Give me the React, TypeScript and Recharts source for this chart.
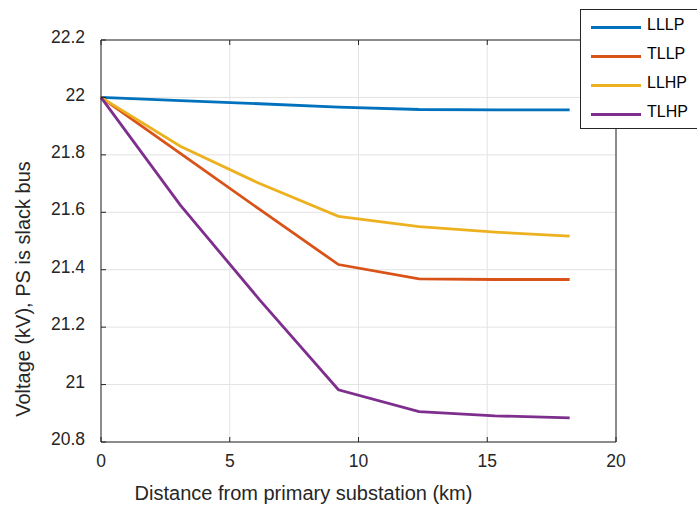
import React from 'react';
import { LineChart, Line, XAxis, YAxis, CartesianGrid } from 'recharts';

const distances = [0, 3.08, 6.16, 9.22, 12.35, 15.3, 18.2];
const lllp = [22, 21.989, 21.978, 21.966, 21.958, 21.957, 21.957];
const tllp = [22, 21.805, 21.61, 21.418, 21.368, 21.366, 21.366];
const llhp = [22, 21.83, 21.7, 21.586, 21.55, 21.531, 21.517];
const tlhp = [22, 21.625, 21.295, 20.982, 20.906, 20.891, 20.884];

const xTicks = [0, 5, 10, 15, 20];
const yTicks = [20.8, 21, 21.2, 21.4, 21.6, 21.8, 22, 22.2];

const seriesNames = ['LLLP', 'TLLP', 'LLHP', 'TLHP'];
const seriesValues = [lllp, tllp, llhp, tlhp];
const seriesColors = ['#0072BD', '#D95319', '#EDB120', '#7E2F8E'];

const xLabel = 'Distance from primary substation (km)';
const yLabel = 'Voltage (kV), PS is slack bus';

const data = distances.map((d, i) => {
  const row: Record<string, number> = { d };
  seriesNames.forEach((n, k) => {
    row[n] = seriesValues[k][i];
  });
  return row;
});

const FONT = '"Liberation Sans", Arial, Helvetica, sans-serif';
const INK = '#262626';
const fmt = (v: number) => String(Number(v.toFixed(1)));
const blank = () => '';

export default function App() {
  return (
    <div style={{ position: 'absolute', left: 0, top: 0, width: 697, height: 511, background: '#fff', fontFamily: FONT }}>
      <LineChart
        width={697}
        height={511}
        data={data}
        margin={{ top: 10, right: 51, bottom: 29, left: 0 }}
        style={{ fontFamily: FONT }}
      >
        <CartesianGrid stroke="#e3e3e3" strokeWidth={1} horizontalValues={yTicks} verticalValues={xTicks} />
        <XAxis
          dataKey="d"
          type="number"
          domain={[0, 20]}
          ticks={xTicks}
          height={40}
          stroke={INK}
          tickSize={-5}
          tickMargin={18}
          tick={{ fill: INK, fontSize: 17.5, fontFamily: FONT }}
          label={{
            content: (p: any) => {
              const vb = p.viewBox || {};
              return (
                <text x={vb.x + vb.width / 2 - 55} y={500} textAnchor="middle" fill={INK} fontSize={20} fontFamily={FONT}>
                  {xLabel}
                </text>
              );
            },
          }}
        />
        <XAxis
          xAxisId="top"
          dataKey="d"
          type="number"
          orientation="top"
          domain={[0, 20]}
          ticks={xTicks}
          height={30}
          stroke={INK}
          tickSize={-5}
          tickFormatter={blank}
        />
        <YAxis
          type="number"
          domain={[20.8, 22.2]}
          ticks={yTicks}
          allowDataOverflow
          width={101}
          stroke={INK}
          tickSize={-5}
          tickMargin={21}
          tickFormatter={fmt}
          tick={{ fill: INK, fontSize: 17.5, fontFamily: FONT, dy: -3 }}
          label={{
            content: (p: any) => (
              <text
                x={0}
                y={0}
                transform={`translate(30, 289) rotate(-90)`}
                textAnchor="middle"
                fill={INK}
                fontSize={20}
                fontFamily={FONT}
              >
                {yLabel}
              </text>
            ),
          }}
        />
        <YAxis
          yAxisId="right"
          orientation="right"
          type="number"
          domain={[20.8, 22.2]}
          ticks={yTicks}
          width={30}
          stroke={INK}
          tickSize={-5}
          tickFormatter={blank}
        />
        {seriesNames.map((n, k) => (
          <Line
            key={n}
            type="linear"
            dataKey={n}
            stroke={seriesColors[k]}
            strokeWidth={2.8}
            dot={false}
            isAnimationActive={false}
          />
        ))}
      </LineChart>
      <div
        style={{
          position: 'absolute',
          left: 580,
          top: 9,
          width: 130,
          height: 120,
          border: `1px solid ${INK}`,
          background: '#fff',
          boxSizing: 'border-box',
        }}
      >
        {seriesNames.map((n, k) => (
          <div key={n} style={{ position: 'absolute', left: 0, top: 5 + k * 29, height: 24, width: 130 }}>
            <div
              style={{
                position: 'absolute',
                left: 10,
                top: 11,
                width: 50,
                height: 3,
                background: seriesColors[k],
              }}
            />
            <div
              style={{
                position: 'absolute',
                left: 66,
                top: 0,
                fontSize: 16,
                lineHeight: '20px',
                color: '#000',
                fontFamily: FONT,
              }}
            >
              {n}
            </div>
          </div>
        ))}
      </div>
    </div>
  );
}
